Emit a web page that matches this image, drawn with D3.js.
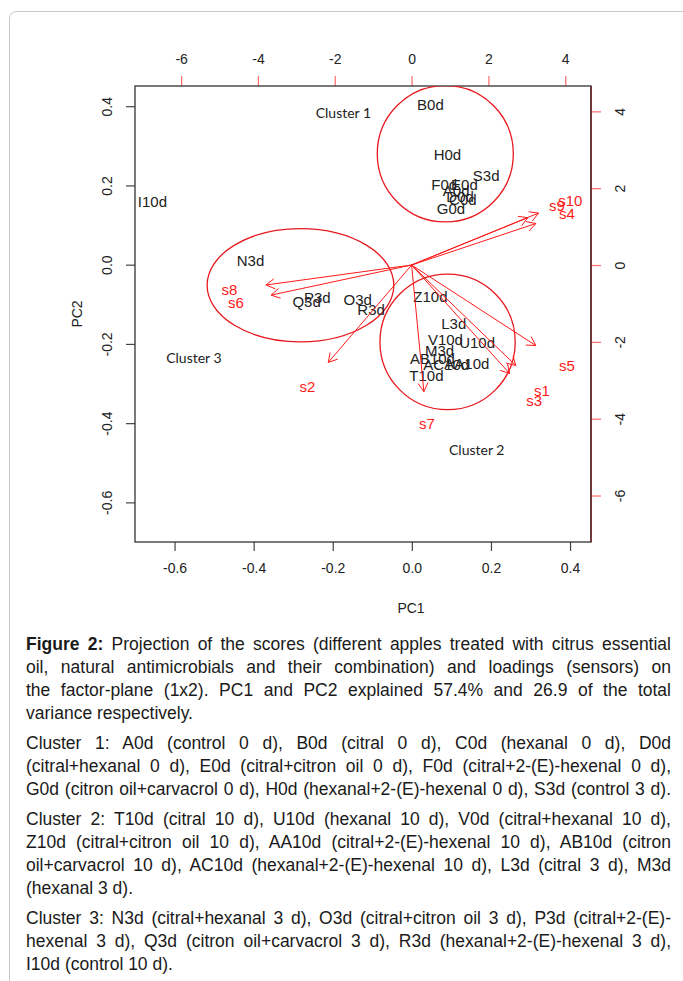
<!DOCTYPE html>
<html><head><meta charset="utf-8">
<script src="https://cdn.jsdelivr.net/npm/d3@7"></script>
<style>
html,body{margin:0;padding:0;background:#fff;}
svg{display:block;}
</style></head>
<body>
<svg id="c" width="683" height="981"></svg>
<script>
// ---- data ----
const scoreLabels = ["A0d","B0d","C0d","D0d","E0d","F0d","G0d","H0d","S3d",
  "L3d","M3d","T10d","U10d","V10d","Z10d","AA10d","AB10d","AC10d",
  "N3d","O3d","P3d","Q3d","R3d","I10d"];
const scorePC1 = [0.112,0.047,0.129,0.122,0.133,0.082,0.099,0.090,0.188,
  0.106,0.070,0.037,0.165,0.085,0.047,0.139,0.052,0.087,
  -0.408,-0.137,-0.239,-0.266,-0.103,-0.656];
const scorePC2 = [0.188,0.405,0.165,0.171,0.203,0.203,0.142,0.279,0.224,
  -0.148,-0.216,-0.279,-0.197,-0.189,-0.081,-0.249,-0.237,-0.251,
  0.011,-0.088,-0.083,-0.094,-0.112,0.159];
const sensorLabels = ["s1","s2","s3","s4","s5","s6","s7","s8","s9","s10"];
const loadPC1 = [3.39,-2.71,3.19,4.04,4.04,-4.57,0.40,-4.74,3.78,4.13];
const loadPC2 = [-3.27,-3.17,-3.53,1.35,-2.62,-0.98,-4.12,-0.65,1.54,1.69];
const scoreTicks = [-0.6,-0.4,-0.2,0.0,0.2,0.4];
const loadTicks = [-6,-4,-2,0,2,4];
const clusterNames = ["Cluster 1","Cluster 2","Cluster 3"];
const clusterCx = [0.0846,0.0904,-0.2816];
const clusterCy = [0.280,-0.195,-0.0518];
const clusterRx = [0.172,0.171,0.236];
const clusterRy = [0.172,0.171,0.143];
const clusterLabelX = [-0.173,0.164,-0.551];
const clusterLabelY = [0.385,-0.466,-0.234];
const captionLines = [
  {b:"Figure 2:", t:" Projection of the scores (different apples treated with citrus essential", j:true},
  {t:"oil, natural antimicrobials and their combination) and loadings (sensors) on", j:true},
  {t:"the factor-plane (1x2). PC1 and PC2 explained 57.4% and 26.9 of the total", j:true},
  {t:"variance respectively.", j:false, gap:true},
  {t:"Cluster 1: A0d (control 0 d), B0d (citral 0 d), C0d (hexanal 0 d), D0d", j:true},
  {t:"(citral+hexanal 0 d), E0d (citral+citron oil 0 d), F0d (citral+2-(E)-hexenal 0 d),", j:true},
  {t:"G0d (citron oil+carvacrol 0 d), H0d (hexanal+2-(E)-hexenal 0 d), S3d (control 3 d).", j:true, gap:true},
  {t:"Cluster 2: T10d (citral 10 d), U10d (hexanal 10 d), V0d (citral+hexanal 10 d),", j:true},
  {t:"Z10d (citral+citron oil 10 d), AA10d (citral+2-(E)-hexenal 10 d), AB10d (citron", j:true},
  {t:"oil+carvacrol 10 d), AC10d (hexanal+2-(E)-hexenal 10 d), L3d (citral 3 d), M3d", j:true},
  {t:"(hexanal 3 d).", j:false, gap:true},
  {t:"Cluster 3: N3d (citral+hexanal 3 d), O3d (citral+citron oil 3 d), P3d (citral+2-(E)-", j:true},
  {t:"hexenal 3 d), Q3d (citron oil+carvacrol 3 d), R3d (hexanal+2-(E)-hexenal 3 d),", j:true},
  {t:"I10d (control 10 d).", j:false}
];

// ---- layout ----
const svg = d3.select("#c");
const L = 135, R = 591, T = 86, B = 542;
const x = d3.scaleLinear().domain([-0.70,0.453]).range([L,R]);
const y = d3.scaleLinear().domain([-0.70,0.451]).range([B,T]);
const x2 = d3.scaleLinear().domain([-7.2,4.67]).range([L,R]);
const y2 = d3.scaleLinear().domain([-7.21,4.66]).range([B,T]);
const font = "'Liberation Sans', Arial, sans-serif";
const red = "#ff1a1a";

// frame
svg.append("path")
  .attr("d","M9.5,985 L9.5,19 Q9.5,11.5 17,11.5 L690,11.5")
  .attr("fill","none").attr("stroke","#c8c8c8").attr("stroke-width",1);

// clip
svg.append("clipPath").attr("id","pc").append("rect")
  .attr("x",L).attr("y",T).attr("width",R-L).attr("height",B-T);

// axes
const f1 = d => d.toFixed(1);
const f0 = d => String(d);
const axB = d3.axisBottom(x).tickValues(scoreTicks).tickSize(9).tickPadding(12).tickFormat(f1);
const gB = svg.append("g").attr("transform",`translate(0,${B})`).call(axB);
const axL = d3.axisLeft(y).tickValues(scoreTicks).tickSize(9).tickPadding(6).tickFormat(f1);
const gL = svg.append("g").attr("transform",`translate(${L},0)`).call(axL);
const axT = d3.axisTop(x2).tickValues(loadTicks).tickSize(10).tickPadding(12).tickFormat(f0);
const gT = svg.append("g").attr("transform",`translate(0,${T})`).call(axT);
const axR = d3.axisRight(y2).tickValues(loadTicks).tickSize(10).tickPadding(6).tickFormat(f0);
const gR = svg.append("g").attr("transform",`translate(${R},0)`).call(axR);
[gB,gL,gT,gR].forEach(g=>{
  g.select(".domain").remove();
  g.selectAll("text").attr("font-family",font).attr("font-size",14).attr("fill","#222");
});
gB.selectAll(".tick line").attr("stroke","#444").attr("stroke-width",1.2);
gL.selectAll(".tick line").attr("stroke","#444").attr("stroke-width",1.2);
gT.selectAll(".tick line").attr("stroke","#ff6b6b").attr("stroke-width",1.2);
gR.selectAll(".tick line").attr("stroke","#ff6b6b").attr("stroke-width",1.2);
gL.selectAll(".tick text").attr("text-anchor","middle").attr("x",null).attr("dy",null)
  .attr("transform","translate(-28,0) rotate(-90)").attr("dominant-baseline","central");
gR.selectAll(".tick text").attr("text-anchor","middle").attr("x",null).attr("dy",null)
  .attr("transform","translate(29,0) rotate(-90)").attr("dominant-baseline","central");

// box
svg.append("rect").attr("x",L).attr("y",T).attr("width",R-L).attr("height",B-T)
  .attr("fill","none").attr("stroke","#333").attr("stroke-width",1.3);
svg.append("line").attr("x1",R).attr("x2",R).attr("y1",T).attr("y2",B)
  .attr("stroke","#6e1f1f").attr("stroke-width",1.4);

// axis titles
svg.append("text").attr("x",411).attr("y",613).attr("text-anchor","middle")
  .attr("font-family",font).attr("font-size",14).attr("fill","#222").text("PC1");
svg.append("text").attr("transform","translate(82,314) rotate(-90)").attr("text-anchor","middle")
  .attr("font-family",font).attr("font-size",14).attr("fill","#222").text("PC2");

const plot = svg.append("g").attr("clip-path","url(#pc)");

// cluster ellipses
plot.selectAll("ellipse.cl").data(clusterNames).join("ellipse")
  .attr("cx",(d,i)=>x(clusterCx[i])).attr("cy",(d,i)=>y(clusterCy[i]))
  .attr("rx",(d,i)=>x(clusterRx[i])-x(0)).attr("ry",(d,i)=>y(0)-y(clusterRy[i]))
  .attr("fill","none").attr("stroke","#e8191e").attr("stroke-width",1.3);

// cluster labels
plot.selectAll("text.cl").data(clusterNames).join("text")
  .attr("x",(d,i)=>x(clusterLabelX[i])).attr("y",(d,i)=>y(clusterLabelY[i]))
  .attr("text-anchor","middle").attr("dominant-baseline","central")
  .attr("font-family","Lato, 'Open Sans', sans-serif").attr("font-size",14).attr("fill","#222")
  .text(d=>d);

// score labels
plot.selectAll("text.sc").data(scoreLabels).join("text")
  .attr("x",(d,i)=>x(scorePC1[i])).attr("y",(d,i)=>y(scorePC2[i]))
  .attr("text-anchor","middle").attr("dominant-baseline","central")
  .attr("font-family",font).attr("font-size",15).attr("fill","#222")
  .text(d=>d);

// loading arrows (0.8 of label position, as R biplot)
const ah = 10, ang = Math.PI/6;
sensorLabels.forEach((s,i)=>{
  const x0 = x2(0), y0 = y2(0);
  const x1 = x2(loadPC1[i]*0.8), y1 = y2(loadPC2[i]*0.8);
  const a = Math.atan2(y1-y0, x1-x0);
  const p = d3.path();
  p.moveTo(x0,y0); p.lineTo(x1,y1);
  p.moveTo(x1-ah*Math.cos(a-ang), y1-ah*Math.sin(a-ang));
  p.lineTo(x1,y1);
  p.lineTo(x1-ah*Math.cos(a+ang), y1-ah*Math.sin(a+ang));
  plot.append("path").attr("d",p.toString()).attr("fill","none")
    .attr("stroke",red).attr("stroke-width",1);
});
plot.selectAll("text.ld").data(sensorLabels).join("text")
  .attr("x",(d,i)=>x2(loadPC1[i])).attr("y",(d,i)=>y2(loadPC2[i]))
  .attr("text-anchor","middle").attr("dominant-baseline","central")
  .attr("font-family",font).attr("font-size",15).attr("fill",red)
  .text(d=>d);

// caption (justified by word spacing; compressed if too long)
const capFont = "'Liberation Sans',Arial,sans-serif";
const sx = 1.0;
const cx0 = 26, cw = 645;
let cy = 650;
captionLines.forEach((ln)=>{
  const t = svg.append("text").attr("x",cx0/sx).attr("y",cy)
    .attr("transform",`scale(${sx},1)`)
    .attr("font-family",capFont).attr("font-size",17.5).attr("fill","#1a1a1a");
  if (ln.b) t.append("tspan").attr("font-weight","bold").text(ln.b);
  t.append("tspan").text(ln.t);
  const w = t.node().getComputedTextLength();
  const target = cw/sx;
  if (w > target) {
    t.attr("textLength",target).attr("lengthAdjust","spacingAndGlyphs");
  } else if (ln.j) {
    const full = (ln.b||"")+ln.t;
    const n = (full.match(/ /g)||[]).length;
    if (n>0) t.attr("word-spacing",(target-w)/n);
  }
  cy += 23 + (ln.gap ? 7 : 0);
});
</script>
</body></html>
